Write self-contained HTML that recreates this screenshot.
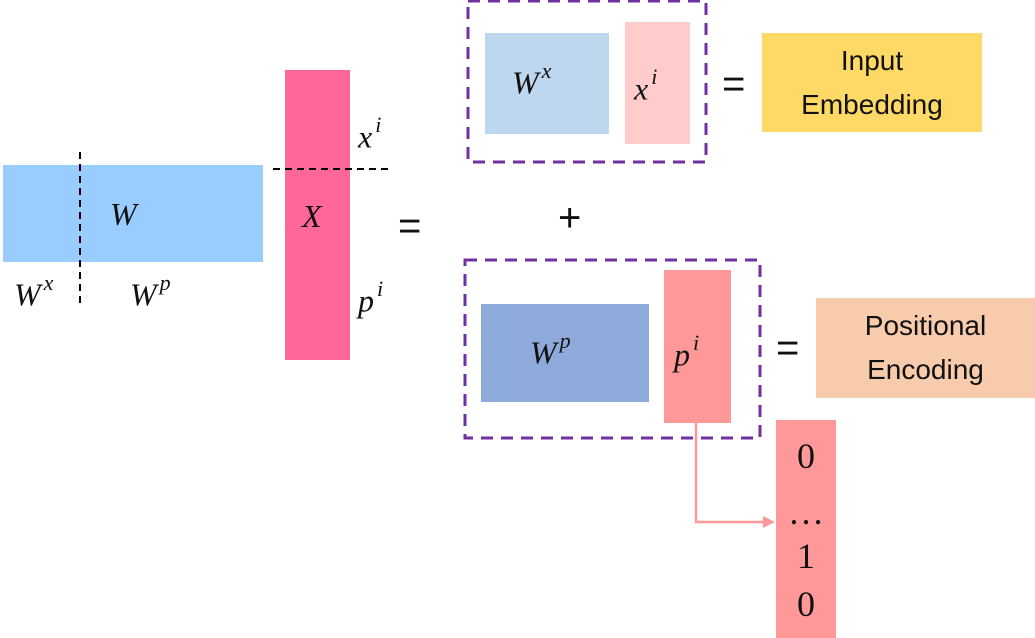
<!DOCTYPE html>
<html><head><style>
body{margin:0;width:1035px;height:638px;background:#fff;position:relative;overflow:hidden}
.b{position:absolute}
.m{position:absolute;font-family:"Liberation Serif",serif;font-style:italic;font-size:32px;color:#111;line-height:1}
.m sup{font-size:22px;position:relative;top:-4px;margin-left:3px}
.t{position:absolute;font-family:"Liberation Sans",sans-serif;font-size:28px;color:#111;text-align:center;line-height:44px;display:flex;align-items:center;justify-content:center}
.eq{position:absolute;font-family:"Liberation Sans",sans-serif;font-size:40px;color:#111;line-height:1}
.n{position:absolute;font-family:"Liberation Serif",serif;font-size:36px;color:#111;width:60px;text-align:center;line-height:1}
</style></head><body>
<div class="b" style="left:3px;top:165px;width:260px;height:97px;background:#99ccff"></div>
<div class="b" style="left:285px;top:70px;width:65px;height:290px;background:#ff6699"></div>
<svg class="b" style="left:0;top:0" width="1035" height="638">
<line x1="80" y1="152" x2="80" y2="305" stroke="#000" stroke-width="2" stroke-dasharray="7,5"/>
<line x1="273" y1="169" x2="388" y2="169" stroke="#000" stroke-width="2" stroke-dasharray="7,5"/>
<rect x="468" y="1" width="238" height="161" fill="none" stroke="#7030a0" stroke-width="3" stroke-dasharray="12,8"/>
<rect x="466" y="234" width="0" height="0"/>
<rect x="466" y="234" width="0" height="0"/>
</svg>
<div class="b" style="left:485px;top:33px;width:124px;height:101px;background:#bdd7ee"></div>
<div class="b" style="left:625px;top:22px;width:65px;height:122px;background:#ffcccc"></div>
<div class="t" style="left:762px;top:33px;width:220px;height:99px;background:#ffd966">Input<br>Embedding</div>
<div class="b" style="left:481px;top:304px;width:168px;height:98px;background:#8eaadb"></div>
<div class="b" style="left:664px;top:270px;width:67px;height:153px;background:#ff9999"></div>
<div class="t" style="left:816px;top:298px;width:219px;height:100px;background:#f8cbad">Positional<br>Encoding</div>
<div class="b" style="left:776px;top:420px;width:60px;height:218px;background:#ff9999"></div>
<svg class="b" style="left:0;top:0" width="1035" height="638">
<rect x="465" y="260" width="295" height="178" fill="none" stroke="#7030a0" stroke-width="3" stroke-dasharray="12,8"/>
<polyline points="696,423 696,522 766,522" fill="none" stroke="#ff9999" stroke-width="2.5"/>
<polygon points="775,522 763,516 763,528" fill="#ff9999"/>
</svg>
<div class="m" style="left:110px;top:198px">W</div>
<div class="m" style="left:14px;top:276px">W<sup>x</sup></div>
<div class="m" style="left:130px;top:276px">W<sup>p</sup></div>
<div class="m" style="left:302px;top:200px">X</div>
<div class="m" style="left:358px;top:118px">x<sup>i</sup></div>
<div class="m" style="left:358px;top:282px">p<sup>i</sup></div>
<div class="eq" style="left:398px;top:206px">=</div>
<div class="m" style="left:512px;top:64px">W<sup>x</sup></div>
<div class="m" style="left:634px;top:70px">x<sup>i</sup></div>
<div class="eq" style="left:722px;top:64px">=</div>
<div class="eq" style="left:558px;top:198px">+</div>
<div class="m" style="left:530px;top:334px">W<sup>p</sup></div>
<div class="m" style="left:674px;top:336px">p<sup>i</sup></div>
<div class="eq" style="left:776px;top:328px">=</div>
<div class="n" style="left:776px;top:438px">0</div>
<div class="n" style="left:776px;top:494px">…</div>
<div class="n" style="left:776px;top:538px">1</div>
<div class="n" style="left:776px;top:586px">0</div>
</body></html>
